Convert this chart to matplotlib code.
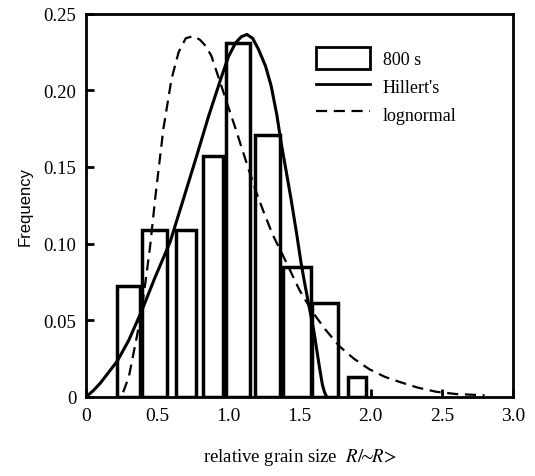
import matplotlib
matplotlib.use('Agg')
import matplotlib.pyplot as plt
from matplotlib.patches import Rectangle
from matplotlib.lines import Line2D

plt.rcParams['font.family'] = ['Liberation Serif', 'DejaVu Serif']
plt.rcParams['mathtext.fontset'] = 'stix'

# histogram of measured grain sizes (800 s)
bin_left = [0.22, 0.395, 0.63, 0.82, 0.98, 1.19, 1.38, 1.59, 1.84]
bin_right = [0.38, 0.57, 0.77, 0.96, 1.15, 1.36, 1.58, 1.77, 1.97]
freq = [0.0725, 0.109, 0.109, 0.1575, 0.231, 0.171, 0.085, 0.061, 0.013]

# Hillert's distribution
hill_x = [0, 0.05, 0.1, 0.15, 0.22, 0.3, 0.39, 0.48, 0.59, 0.68, 0.776,
          0.86, 0.946, 1.0, 1.05, 1.09, 1.13, 1.17, 1.21, 1.26, 1.30, 1.34, 1.37,
          1.41, 1.44, 1.48, 1.51, 1.54, 1.57, 1.60, 1.62, 1.64, 1.66, 1.675, 1.69]
hill_y = [0, 0.004, 0.009, 0.015, 0.0235, 0.037, 0.056, 0.077, 0.101, 0.128, 0.157,
          0.183, 0.2075, 0.222, 0.231, 0.235, 0.2365, 0.234, 0.227, 0.216, 0.203, 0.184, 0.166,
          0.145, 0.129, 0.106, 0.0875, 0.072, 0.0575, 0.043, 0.031, 0.019, 0.008, 0.003, 0]

# lognormal distribution
logn_x = [0.26, 0.30, 0.33, 0.36, 0.39, 0.42, 0.45, 0.487, 0.543, 0.60, 0.65, 0.70,
          0.755, 0.80, 0.84, 0.88, 0.95, 1.0, 1.05, 1.14, 1.19, 1.25,
          1.31, 1.40, 1.50, 1.59, 1.68, 1.78, 1.88, 1.99, 2.1, 2.2, 2.33, 2.46, 2.6, 2.8]
logn_y = [0.003, 0.013, 0.027, 0.041, 0.057, 0.077, 0.0985, 0.131, 0.175, 0.2075, 0.225, 0.234,
          0.2355, 0.233, 0.229, 0.2225, 0.203, 0.189, 0.175, 0.149, 0.135, 0.12,
          0.106, 0.089, 0.0695, 0.0555, 0.044, 0.033, 0.025, 0.018, 0.013, 0.0098, 0.006, 0.0033, 0.0018, 0.001]

xticks = [0, 0.5, 1.0, 1.5, 2.0, 2.5, 3.0]
xticklabels = ['0', '0.5', '1.0', '1.5', '2.0', '2.5', '3.0']
yticks = [0, 0.05, 0.10, 0.15, 0.20, 0.25]
yticklabels = ['0', '0.05', '0.10', '0.15', '0.20', '0.25']

fig = plt.figure(figsize=(5.35, 4.77), dpi=100)
ax = fig.add_axes([0.161, 0.166, 0.798, 0.803])

widths = [r - l for l, r in zip(bin_left, bin_right)]
ax.bar(bin_left, freq, width=widths, align='edge', facecolor='white',
       edgecolor='black', linewidth=2.5, zorder=2)
ax.plot(hill_x, hill_y, color='black', lw=2.2, zorder=3)
ax.plot(logn_x, logn_y, color='black', lw=1.6, ls=(0, (5, 3)), zorder=3)

ax.set_xlim(0, 3.0)
ax.set_ylim(0, 0.25)
ax.set_xticks(xticks)
ax.set_xticklabels(xticklabels)
ax.set_yticks(yticks)
ax.set_yticklabels(yticklabels)
ax.tick_params(direction='in', length=6, width=2, labelsize=14, pad=7)
ax.tick_params(axis='y', labelsize=13.5)
for s in ax.spines.values():
    s.set_linewidth(2)

ax.set_ylabel('Frequency', family='Liberation Sans', fontsize=12, labelpad=8)
ax.set_xlabel(r'relative grain size  $R/\!\!\sim\!\! R\!>$', fontsize=13.5, labelpad=16)

handles = [Rectangle((0, 0), 1, 1, facecolor='white', edgecolor='black', linewidth=2),
           Line2D([], [], color='black', lw=2),
           Line2D([], [], color='black', lw=1.6, ls=(0, (5, 3)))]
ax.legend(handles, ['800 s', "Hillert's", 'lognormal'], loc='upper left',
          bbox_to_anchor=(0.5, 0.955), frameon=False, fontsize=13,
          handlelength=3.0, handleheight=1.5, labelspacing=0.32, handletextpad=0.7)

fig.savefig('out.png', dpi=100)
